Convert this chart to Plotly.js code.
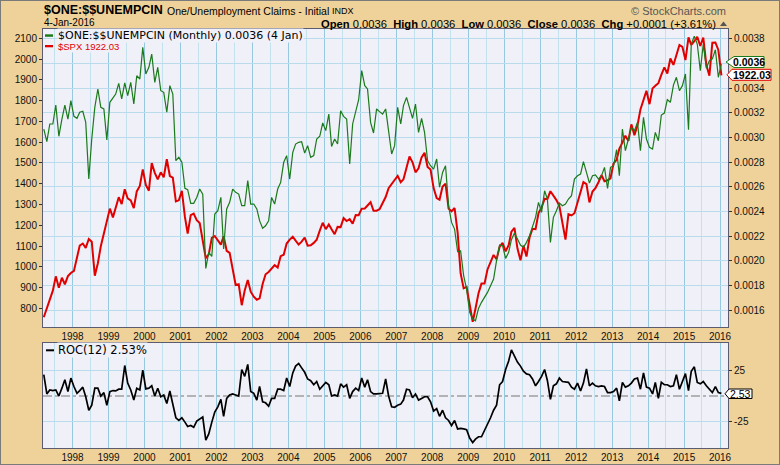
<!DOCTYPE html>
<html><head><meta charset="utf-8">
<script src="https://cdn.plot.ly/plotly-3.0.1.min.js"></script>
<style>html,body{margin:0;padding:0;background:#efd29a;}#chart{width:780px;height:465px;}</style>
</head><body><div id="chart"></div>
<script>
// first monthly point: March 1997, last: January 2016
const startYear = 1997, startMonth = 3;

const spxClose = [
 757, 801, 848, 885, 954, 899, 947, 915, 955, 970,
 980, 1049, 1102, 1112, 1091, 1134, 1121, 957, 1017, 1099, 1164, 1229,
 1280, 1238, 1286, 1335, 1302, 1373, 1329, 1320, 1283, 1363, 1389, 1469,
 1394, 1366, 1499, 1452, 1421, 1455, 1431, 1518, 1437, 1429, 1315, 1320,
 1366, 1240, 1160, 1249, 1256, 1224, 1211, 1134, 1041, 1060, 1139, 1148,
 1130, 1107, 1147, 1077, 1067, 990, 912, 916, 815, 886, 936, 880,
 856, 841, 848, 917, 964, 975, 990, 1008, 996, 1051, 1058, 1112,
 1131, 1145, 1126, 1107, 1121, 1141, 1102, 1104, 1115, 1130, 1174, 1212,
 1181, 1204, 1181, 1157, 1192, 1191, 1234, 1220, 1229, 1207, 1249, 1248,
 1280, 1281, 1295, 1311, 1270, 1270, 1277, 1304, 1336, 1378, 1401, 1418,
 1438, 1407, 1421, 1482, 1531, 1503, 1455, 1474, 1527, 1549, 1481, 1468,
 1379, 1331, 1323, 1386, 1400, 1280, 1267, 1283, 1165, 969, 896, 903,
 826, 735, 798, 873, 919, 919, 987, 1021, 1057, 1036, 1096, 1115,
 1074, 1104, 1169, 1187, 1089, 1031, 1102, 1049, 1141, 1183, 1181, 1258,
 1286, 1327, 1326, 1364, 1345, 1321, 1292, 1219, 1131, 1253, 1247, 1258,
 1312, 1366, 1408, 1398, 1310, 1362, 1379, 1407, 1441, 1412, 1416, 1426,
 1498, 1515, 1569, 1598, 1631, 1606, 1686, 1633, 1682, 1757, 1806, 1848,
 1783, 1859, 1872, 1884, 1924, 1960, 1931, 2003, 1972, 2018, 2068, 2059,
 1995, 2105, 2068, 2086, 2107, 2063, 2104, 1972, 1920, 2079, 2080, 2044,
 1922.03
];

const oneOverClaims = [
 0.003069, 0.002966, 0.003110, 0.003110, 0.003264, 0.003010, 0.003150, 0.003264, 0.003150, 0.003299,
 0.003172, 0.003156, 0.003205, 0.003213, 0.003123, 0.002663, 0.002988, 0.003245, 0.003394, 0.003245,
 0.003232, 0.002980, 0.003286, 0.003326, 0.003353, 0.003440, 0.003313, 0.003443, 0.003340, 0.003448,
 0.003272, 0.003502, 0.003475, 0.003732, 0.003516, 0.003570, 0.003678, 0.003448, 0.003570, 0.003380,
 0.003367, 0.003205, 0.003421, 0.003353, 0.002812, 0.002839, 0.002799, 0.002587, 0.002577, 0.002466,
 0.002466, 0.002514, 0.002582, 0.002541, 0.001938, 0.002068, 0.002035, 0.002379,
 0.002406, 0.002514, 0.002095, 0.002420, 0.002474, 0.002582, 0.002555, 0.002541, 0.002447, 0.002447,
 0.002650, 0.002460, 0.002460, 0.002420, 0.002325, 0.002263, 0.002284, 0.002325, 0.002514, 0.002460,
 0.002582, 0.002636, 0.002799, 0.002853, 0.002663, 0.002880, 0.002947, 0.002961, 0.002966, 0.002874,
 0.002934, 0.002839, 0.002853, 0.002988, 0.003010, 0.003118, 0.003056, 0.003191, 0.002928, 0.002988,
 0.002947, 0.003218, 0.003172, 0.003150, 0.002785, 0.003110, 0.003205, 0.003307, 0.003543, 0.003421,
 0.003394, 0.003123, 0.003037, 0.003232, 0.003210, 0.003191, 0.003232,
 0.003069, 0.002866, 0.002934, 0.003245, 0.003110, 0.003259, 0.003326, 0.003232, 0.003156, 0.003272,
 0.003042, 0.003156, 0.003042, 0.002812, 0.002771, 0.002744, 0.002826, 0.002596, 0.002717, 0.002771,
 0.002447, 0.002311, 0.002257, 0.002073, 0.002081, 0.001878, 0.001770, 0.001581, 0.001526, 0.001513,
 0.001613, 0.001662, 0.001702, 0.001743, 0.001797, 0.001851, 0.002000, 0.002127, 0.002122, 0.002019,
 0.002068, 0.002171, 0.002225, 0.002176, 0.002127, 0.002108, 0.002149, 0.002203, 0.002284, 0.002352,
 0.002474, 0.002393, 0.002568, 0.002501, 0.002149,
 0.002352, 0.002406, 0.002468, 0.002447, 0.002460, 0.002501, 0.002528, 0.002663, 0.002690, 0.002704,
 0.002804, 0.002717, 0.002631, 0.002690, 0.002696, 0.002663, 0.002690, 0.002758, 0.002587, 0.002758,
 0.002771, 0.002901, 0.002690, 0.003069, 0.002893, 0.002988, 0.003083, 0.003056, 0.003123, 0.002893,
 0.003164, 0.002988, 0.002920, 0.002907, 0.003042, 0.002974, 0.003183, 0.003199, 0.003307, 0.003286,
 0.003426, 0.003489, 0.003380, 0.003421, 0.003516, 0.003064, 0.003759, 0.003822, 0.003759, 0.003543,
 0.003759, 0.003562, 0.003624, 0.003638, 0.003713, 0.003489, 0.003600
];

const roc12 = [
 20.7, 2.0, 5.9, 5.3, 5.9, 0, 7.6, 15.8, 4.3, 17.4,
 9.2, 2.6, 5.3, 8.6, -0.7, -13.8, -8.9, 7.6, 7.6, 0,
 3.3, -8.9, 4.3, 5.3, 4.9, 6.6, 6.6, 29.6, 12.5, 5.9,
 -3.9, 7.6, 5.9, 25.0, 6.9, 7.6, 9.9, 0, 7.6, -0.7,
 1.0, -7.2, 4.9, -8.9, -21.1, -23.7, -21.1, -25.3, -29.6, -28.6,
 -30.3, -24.3, -22.0, -20.4, -42.8, -36.8, -25.3, -15.5, -10.5, -3.3,
 -19.7, -2.3, 1.0, 2.0, 1.0, 0, 25.7, 19.1, 30.6, 4.3,
 2.6, -3.9, 9.2, -5.6, -6.6, -9.9, -2.3, -2.3, 6.6, 6.6,
 5.3, 17.4, 9.2, 22.4, 29.0, 31.6, 27.3, 23.0, 16.5, 14.8,
 10.9, 14.1, 6.6, 9.9, 13.2, 10.9, 0, 1.0, 0, 11.8,
 8.6, 10.9, -2.3, 4.3, 7.6, 5.3, 17.4, 8.6, 15.8, 4.3,
 2.0, 2.0, 2.6, 2.6, 16.5, 0, -10.5, -10.9, -8.9, -7.9,
 -3.9, 6.6, 5.9, -1.6, 2.0, -3.9, -2.3, -0.7, -0.7, -5.6,
 -14.5, -12.2, -19.7, -13.8, -21.1, -23.7, -28.6, -23.7, -31.9, -31.3,
 -31.9, -32.6, -40.8, -45.1, -41.8, -39.5, -39.5, -33.6, -26.3, -21.1,
 -13.8, -8.9, 10.9, 14.1, 25.7, 33.9, 44.7, 38.8, 32.9, 29.0,
 24.0, 21.4, 20.7, 16.5, 9.9, 14.1, 19.1, 25.7, 15.1, -3.3,
 9.9, 11.8, 17.4, 14.1, 13.5, 13.2, 8.6, 6.6, 12.5, 4.9,
 12.5, 26.3, 9.9, 12.5, 9.9, 9.2, 9.9, 9.2, 3.3, 3.3,
 4.3, 7.6, -4.6, 13.2, 8.6, 9.9, 12.5, 16.5, 17.4, 6.6,
 22.4, 8.6, 7.6, 2.0, 13.2, -2.3, 13.2, 10.9, 10.9, 9.2,
 9.9, 20.7, 6.6, 14.1, 21.7, 5.3, 24.0, 28.3, 13.2, 11.8,
 14.1, 9.9, 6.6, 3.3, 9.2, 3.3, 2.53
];

// right-axis tick labels (0.0036 sits under the value tag)
const rightTickVals = [0.0016, 0.0018, 0.0020, 0.0022, 0.0024, 0.0026, 0.0028, 0.0030, 0.0032, 0.0034, 0.0036, 0.0038];
const rightTickText = ['0.0016', '0.0018', '0.0020', '0.0022', '0.0024', '0.0026', '0.0028', '0.0030', '0.0032', '0.0034', '', '0.0038'];

const W = 780, H = 465;
const px = x => x / W;
const py = y => 1 - y / H;

const dates = spxClose.map((_, i) => {
  const m = startMonth - 1 + i;
  const y = startYear + Math.floor(m / 12);
  const mm = (m % 12) + 1;
  return y + '-' + String(mm).padStart(2, '0') + '-15';
});

const TAN = '#efd29a', PLOTBG = '#f0f0f8', FRAME = '#5c5c70';
const tickFont = {family: 'Liberation Sans, Arial, sans-serif', size: 10, color: '#111'};

const xcommon = {
  type: 'date', range: ['1997-03-07', '2016-03-22'],
  dtick: 'M12', tick0: '1998-01-01', tickformat: '%Y',
  showgrid: true, gridcolor: '#96c9df', gridwidth: 1,
  minor: {dtick: 'M6', tick0: '1998-01-01', showgrid: true, gridcolor: '#c4e2ee', gridwidth: 1},
  showline: true, mirror: true, linecolor: FRAME, linewidth: 1,
  ticks: '', tickfont: tickFont, zeroline: false,
  domain: [px(43), px(728)], fixedrange: true
};

const traces = [
  {x: dates, y: spxClose, type: 'scatter', mode: 'lines', xaxis: 'x', yaxis: 'y',
   line: {color: '#e00000', width: 2}, hoverinfo: 'skip'},
  {x: dates, y: oneOverClaims, type: 'scatter', mode: 'lines', xaxis: 'x', yaxis: 'y2',
   line: {color: '#1b7a1b', width: 1.2}, hoverinfo: 'skip'},
  {x: dates, y: roc12, type: 'scatter', mode: 'lines', xaxis: 'x2', yaxis: 'y3',
   line: {color: '#000000', width: 1.7}, hoverinfo: 'skip'}
];

function tag(tipX, boxL, boxR, top, bot, color) {
  const mid = (top + bot) / 2;
  return {type: 'path', xref: 'paper', yref: 'paper', layer: 'above',
    path: 'M' + px(tipX) + ',' + py(mid) + ' L' + px(boxL) + ',' + py(top) + ' L' + px(boxR) + ',' + py(top) +
          ' L' + px(boxR) + ',' + py(bot) + ' L' + px(boxL) + ',' + py(bot) + ' Z',
    fillcolor: '#ffffff', line: {color: color, width: 1}};
}

const shapes = [
  {type: 'line', xref: 'x2 domain', yref: 'y3', x0: 0, x1: 1, y0: 0, y1: 0,
   line: {color: '#777777', width: 1.2, dash: 'dashdot'}, layer: 'below'},
  {type: 'rect', xref: 'paper', yref: 'paper', x0: px(45), x1: px(53), y0: py(36.8), y1: py(34.3),
   fillcolor: '#1b7a1b', line: {width: 0}, layer: 'above'},
  {type: 'rect', xref: 'paper', yref: 'paper', x0: px(45), x1: px(53), y0: py(47.3), y1: py(45),
   fillcolor: '#e00000', line: {width: 0}, layer: 'above'},
  {type: 'rect', xref: 'paper', yref: 'paper', x0: px(46), x1: px(54), y0: py(351.3), y1: py(349.3),
   fillcolor: '#000000', line: {width: 0}, layer: 'above'},
  tag(726, 734, 764, 56.5, 67.5, '#1b7a1b'),
  tag(727, 732, 771, 69.3, 80.3, '#e00000'),
  tag(725, 729, 752, 389, 398.5, '#000000'),
  {type: 'path', xref: 'paper', yref: 'paper', layer: 'above',
   path: 'M' + px(720) + ',' + py(26) + ' L' + px(727) + ',' + py(26) + ' L' + px(723.5) + ',' + py(21.5) + ' Z',
   fillcolor: '#555555', line: {width: 0}},
  {type: 'rect', xref: 'paper', yref: 'paper', x0: 0, x1: 1, y0: 0, y1: 1,
   line: {color: '#7a7a7a', width: 2}, fillcolor: 'rgba(0,0,0,0)', layer: 'above'}
];

const ann = (text, x, y, opts) => Object.assign({
  text: text, x: px(x), y: py(y), xref: 'paper', yref: 'paper',
  xanchor: 'left', yanchor: 'middle', showarrow: false, borderpad: 0
}, opts);

const LIB = 'Liberation Sans, Arial, sans-serif';
const annotations = [
  ann('<b>$ONE:$$UNEMPCIN</b>', 43, 10, {font: {family: LIB, size: 12.5, color: '#000'}}),
  ann('One/Unemployment Claims - Initial', 166, 10.5, {font: {family: LIB, size: 10.5, color: '#000'}}),
  ann('INDX', 331, 11, {font: {family: LIB, size: 9, color: '#000'}}),
  ann('4-Jan-2016', 43, 23, {font: {family: LIB, size: 10, color: '#000'}}),
  ann('© StockCharts.com', 727, 10.5, {xanchor: 'right', font: {family: LIB, size: 11, color: '#555'}}),
  ann('<b>Open</b> 0.0036  <b>High</b> 0.0036  <b>Low</b> 0.0036  <b>Close</b> 0.0036  <b>Chg</b> +0.0001 (+3.61%)',
      717, 23.5, {xanchor: 'right', font: {family: LIB, size: 11.2, color: '#000'}}),
  ann('$ONE:$$UNEMPCIN (Monthly) 0.0036 (4 Jan)', 57, 35.5,
      {bgcolor: PLOTBG, font: {family: 'DejaVu Sans, sans-serif', size: 11, color: '#000'}}),
  ann('$SPX 1922.03', 57, 46.3,
      {bgcolor: PLOTBG, font: {family: LIB, size: 9.5, color: '#e00000'}}),
  ann('ROC(12) 2.53%', 57, 350.3,
      {bgcolor: PLOTBG, font: {family: 'DejaVu Sans, sans-serif', size: 11.5, color: '#000'}}),
  ann('<b>0.0036</b>', 749, 62, {xanchor: 'center', font: {family: LIB, size: 10.5, color: '#000'}}),
  ann('<b>1922.03</b>', 751.5, 75, {xanchor: 'center', font: {family: LIB, size: 10.5, color: '#000'}}),
  ann('2.53', 740.5, 394, {xanchor: 'center', font: {family: LIB, size: 10.5, color: '#000'}})
];

const layout = {
  width: W, height: H, margin: {l: 0, r: 0, t: 0, b: 0},
  paper_bgcolor: TAN, plot_bgcolor: PLOTBG, showlegend: false,
  xaxis: Object.assign({}, xcommon, {anchor: 'y'}),
  xaxis2: Object.assign({}, xcommon, {anchor: 'y3', matches: 'x'}),
  yaxis: {domain: [py(327), py(29)], range: [710, 2145], dtick: 100, tick0: 0,
    showgrid: false, ticks: 'outside', ticklen: 3, tickcolor: '#333', tickfont: tickFont,
    showline: true, mirror: true, linecolor: FRAME, zeroline: false, side: 'left', anchor: 'x', fixedrange: true},
  yaxis2: {overlaying: 'y', side: 'right', anchor: 'x', range: [0.001462, 0.003881],
    tickmode: 'array', tickvals: rightTickVals, ticktext: rightTickText,
    showgrid: true, gridcolor: '#b8dcec', ticks: 'outside', ticklen: 3, tickcolor: '#333',
    tickfont: tickFont, zeroline: false, showline: false, fixedrange: true},
  yaxis3: {domain: [py(448), py(343)], anchor: 'x2', range: [-50.4, 51.4], tickvals: [-25, 25], ticktext: ['-25', '25'],
    side: 'right', showgrid: true, gridcolor: '#b8dcec', ticks: 'outside', ticklen: 3, tickcolor: '#333',
    tickfont: tickFont, zeroline: false, showline: true, mirror: true, linecolor: FRAME, fixedrange: true},
  shapes: shapes, annotations: annotations
};

Plotly.newPlot('chart', traces, layout, {displayModeBar: false, staticPlot: true});
</script>
</body></html>
